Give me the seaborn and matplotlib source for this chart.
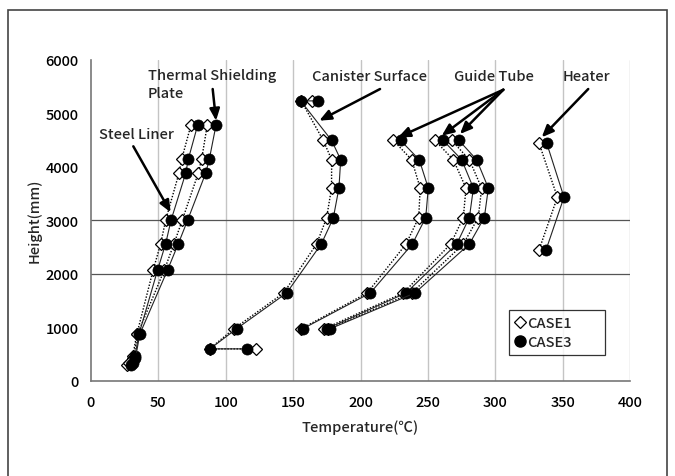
import matplotlib
matplotlib.use("Agg")
import matplotlib.pyplot as plt
from matplotlib.lines import Line2D
from matplotlib.patches import Rectangle
import seaborn as sns
import pandas as pd

# ---- data (temperature in degC, height in mm) ----
steel_h = [4780, 4140, 3880, 3000, 2560, 2075, 870, 470, 300]
steel_c1 = [74.2, 67.3, 65.3, 55.4, 51.7, 46.2, 34.0, 31.0, 26.5]
steel_c3 = [79.2, 72.2, 70.3, 59.4, 55.4, 49.5, 35.6, 32.7, 30.0]

thermal_h = [4780, 4140, 3880, 3000, 2560, 2075, 870, 420, 330]
thermal_c1 = [86.3, 82.1, 79.6, 67.7, 61.6, 54.5, 34.5, 31.5, 28.0]
thermal_c3 = [92.8, 87.8, 85.1, 71.7, 64.8, 56.9, 36.2, 33.0, 31.0]

canister_h = [5230, 5230, 4490, 4130, 3600, 3040, 2560, 1640, 970, 595, 595]
canister_c1 = [163.8, 156.0, 172.4, 178.6, 178.5, 174.8, 167.5, 143.0, 106.0, 88.0, 122.5]
canister_c3 = [168.2, 155.6, 178.6, 185.3, 184.0, 179.8, 171.0, 145.2, 108.0, 88.3, 115.5]

guide_h = [4490, 4130, 3600, 3050, 2555, 1640, 970]
guide1_c1 = [224.4, 238.0, 244.3, 243.2, 233.8, 205.0, 156.0]
guide1_c3 = [229.8, 243.6, 250.3, 248.4, 238.5, 207.3, 157.1]
guide2_c1 = [255.3, 268.9, 278.3, 276.3, 266.9, 231.8, 173.0]
guide2_c3 = [261.4, 275.1, 283.8, 280.8, 271.4, 233.8, 174.9]
guide3_c1 = [267.7, 280.8, 289.9, 287.4, 276.3, 238.0, 176.0]
guide3_c3 = [273.1, 286.2, 294.9, 291.9, 280.8, 240.4, 177.4]

heater_h = [4440, 3430, 2445]
heater_c1 = [332.5, 346.1, 332.5]
heater_c3 = [338.2, 351.0, 337.7]

x_ticks = [0, 50, 100, 150, 200, 250, 300, 350, 400]
y_ticks = [0, 1000, 2000, 3000, 4000, 5000, 6000]
case_labels = ["CASE1", "CASE3"]

series = [
    ("Steel Liner", steel_h, steel_c1, steel_c3),
    ("Thermal Shielding Plate", thermal_h, thermal_c1, thermal_c3),
    ("Canister Surface", canister_h, canister_c1, canister_c3),
    ("Guide Tube 1", guide_h, guide1_c1, guide1_c3),
    ("Guide Tube 2", guide_h, guide2_c1, guide2_c3),
    ("Guide Tube 3", guide_h, guide3_c1, guide3_c3),
    ("Heater", heater_h, heater_c1, heater_c3),
]

rows = []
for name, h, c1, c3 in series:
    for i, (a, b) in enumerate(zip(c1, h)):
        rows.append(dict(member=name, case="CASE1", order=i, temp=a, height=b))
    for i, (a, b) in enumerate(zip(c3, h)):
        rows.append(dict(member=name, case="CASE3", order=i, temp=a, height=b))
df = pd.DataFrame(rows)

# ---- style ----
sns.set_style("white")
plt.rcParams["font.family"] = ["Noto Sans CJK JP", "DejaVu Sans"]
plt.rcParams["font.weight"] = "medium"
plt.rcParams["axes.labelweight"] = "medium"
FS = 10.5

fig = plt.figure(figsize=(6.75, 4.77), dpi=100)
ax = fig.add_axes([91 / 675, 1 - 381.7 / 477, 539 / 675, 321 / 477])

case_style = {
    "CASE1": dict(marker="D", markersize=6.5, markerfacecolor="white",
                  markeredgecolor="black", markeredgewidth=0.9,
                  linestyle=(0, (1, 1.2)), linewidth=1.0, color="black", zorder=3),
    "CASE3": dict(marker="o", markersize=8, markerfacecolor="black",
                  markeredgecolor="black", markeredgewidth=0.5,
                  linestyle="-", linewidth=0.8, color="#222222", zorder=4),
}

for case in case_labels:
    for name, _, _, _ in series:
        sub = df[(df.member == name) & (df.case == case)].sort_values("order")
        sns.lineplot(data=sub, x="temp", y="height", sort=False, estimator=None,
                     ax=ax, legend=False, **case_style[case])

ax.set_xlim(0, 400)
ax.set_ylim(0, 6000)
ax.set_xticks(x_ticks)
ax.set_yticks(y_ticks)
ax.tick_params(axis="both", length=0, labelsize=FS, colors="black")
ax.tick_params(axis="x", pad=10)
ax.tick_params(axis="y", pad=9)

# gridlines
for xv in x_ticks[1:]:
    ax.axvline(xv, color="#c4c4c4", lw=1.0, zorder=1)
for yv in [2000, 3000]:
    ax.axhline(yv, color="#555555", lw=0.9, zorder=1)

for s in ["top", "right"]:
    ax.spines[s].set_visible(False)
for s in ["left", "bottom"]:
    ax.spines[s].set_color("#777777")
    ax.spines[s].set_linewidth(1.2)

ax.set_xlabel("Temperature(℃)", fontsize=FS, labelpad=8)
ax.set_ylabel("Height(mm)", fontsize=FS, labelpad=3)

# annotations
arrow = dict(arrowstyle="-|>,head_length=0.7,head_width=0.3", color="black", lw=1.8,
             shrinkA=0, shrinkB=0)
ax.text(42.3, 5840, "Thermal Shielding\nPlate", fontsize=FS, va="top", ha="left",
        linespacing=1.3)
ax.annotate("", xy=(92.8, 4860), xytext=(90.3, 5452), arrowprops=arrow)
ax.text(5.9, 4611, "Steel Liner", fontsize=FS, va="center", ha="left")
ax.annotate("", xy=(59.1, 3148), xytext=(31.4, 4381), arrowprops=arrow)
ax.text(164.2, 5690, "Canister Surface", fontsize=FS, va="center", ha="left")
ax.annotate("", xy=(169.4, 4860), xytext=(214.5, 5452), arrowprops=arrow)
ax.text(269.4, 5690, "Guide Tube", fontsize=FS, va="center", ha="left")
for tx, ty in [(228, 4550), (260.3, 4579), (273.8, 4611)]:
    ax.annotate("", xy=(tx, ty), xytext=(306, 5439), arrowprops=arrow)
ax.text(350.3, 5690, "Heater", fontsize=FS, va="center", ha="left")
ax.annotate("", xy=(334.5, 4550), xytext=(369, 5452), arrowprops=arrow)

# legend
handles = [
    Line2D([], [], linestyle="none", marker="D", markersize=6.5, markerfacecolor="white",
           markeredgecolor="black", markeredgewidth=0.9),
    Line2D([], [], linestyle="none", marker="o", markersize=8, markerfacecolor="black",
           markeredgecolor="black"),
]
x0 = (509 - 91) / 539
y1 = (381.7 - 310.7) / 321
w = (605 - 509) / 539
leg = ax.legend(handles, case_labels, loc="upper left",
                bbox_to_anchor=(x0, y1 - 0.2, w, 0.2), mode="expand",
                fontsize=FS, frameon=True, fancybox=False, edgecolor="black",
                handlelength=0.6, handletextpad=0.2, borderpad=0.45, labelspacing=0.3,
                borderaxespad=0)
leg.get_frame().set_linewidth(0.9)

# figure frame
fig.add_artist(Rectangle((8 / 675, -0.05), (667 - 8) / 675, 1.05 - 11 / 477,
                         transform=fig.transFigure, fill=False, edgecolor="#444444",
                         lw=1.2))

fig.savefig("out.png", dpi=100)
